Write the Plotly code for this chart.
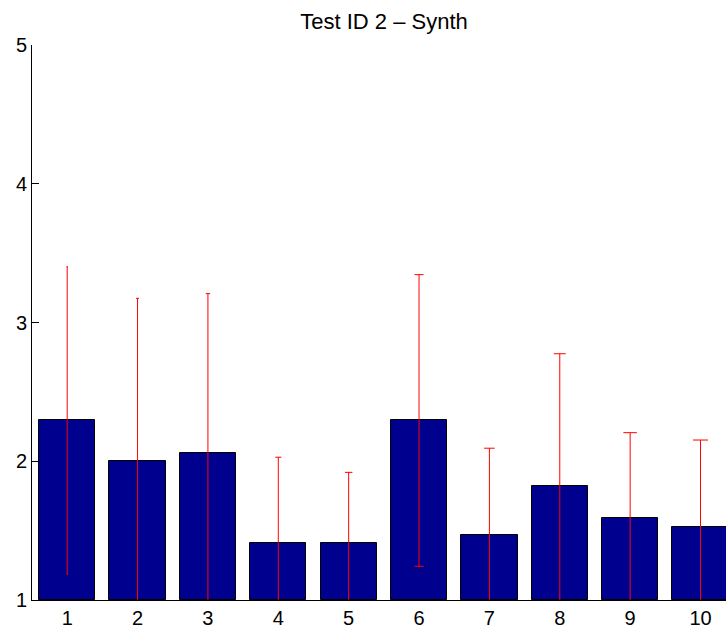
import plotly.graph_objects as go

# Per-condition means and standard deviations
categories = [1, 2, 3, 4, 5, 6, 7, 8, 9, 10]
means = [2.294, 2.002, 2.059, 1.413, 1.413, 2.294, 1.471, 1.824, 1.591, 1.528]
stds = [1.108, 1.172, 1.149, 0.616, 0.507, 1.051, 0.623, 0.951, 0.615, 0.625]
y_ticks = [1, 2, 3, 4, 5]
title_text = "Test ID 2 \u2013 Synth"

FONT = "Liberation Sans, Arial, Helvetica, sans-serif"
BAR_COLOR = "#00008F"
ERR_COLOR = "#FF0000"

fig = go.Figure()

fig.add_trace(go.Bar(
    x=categories,
    y=[m - 1 for m in means],
    base=1,
    width=0.8,
    marker=dict(color=BAR_COLOR, line=dict(color="black", width=1)),
    showlegend=False,
    hoverinfo="skip",
))

# Error bars drawn on top of the bars; cap width grows with the category index
for c, m, s in zip(categories, means, stds):
    fig.add_trace(go.Scatter(
        x=[c],
        y=[m],
        mode="markers",
        marker=dict(size=1, color="rgba(0,0,0,0)"),
        error_y=dict(
            type="data",
            array=[s],
            symmetric=True,
            color=ERR_COLOR,
            thickness=1,
            width=0.75 * c,
        ),
        showlegend=False,
        hoverinfo="skip",
    ))

fig.update_layout(
    width=726,
    height=631,
    margin=dict(l=32, r=0, t=45, b=31),
    paper_bgcolor="white",
    plot_bgcolor="white",
    bargap=0,
    font=dict(family=FONT, size=20, color="black"),
    title=dict(
        text=title_text,
        x=(384 - 32) / 694,
        xref="paper",
        xanchor="center",
        y=1 - 21 / 631,
        yref="container",
        yanchor="middle",
        font=dict(family=FONT, size=22, color="black"),
    ),
    xaxis=dict(
        range=[0.5, 10.362],
        tickmode="array",
        tickvals=categories,
        ticktext=[str(c) for c in categories],
        ticks="",
        showline=True,
        linecolor="black",
        linewidth=1,
        showgrid=False,
        zeroline=False,
        fixedrange=True,
    ),
    yaxis=dict(
        range=[1, 5],
        tickmode="array",
        tickvals=y_ticks,
        ticktext=[str(v) for v in y_ticks],
        ticks="inside",
        ticklen=7,
        tickcolor="black",
        tickwidth=1,
        showline=True,
        linecolor="black",
        linewidth=1,
        showgrid=False,
        zeroline=False,
        fixedrange=True,
    ),
)

fig.write_html("out.html")
